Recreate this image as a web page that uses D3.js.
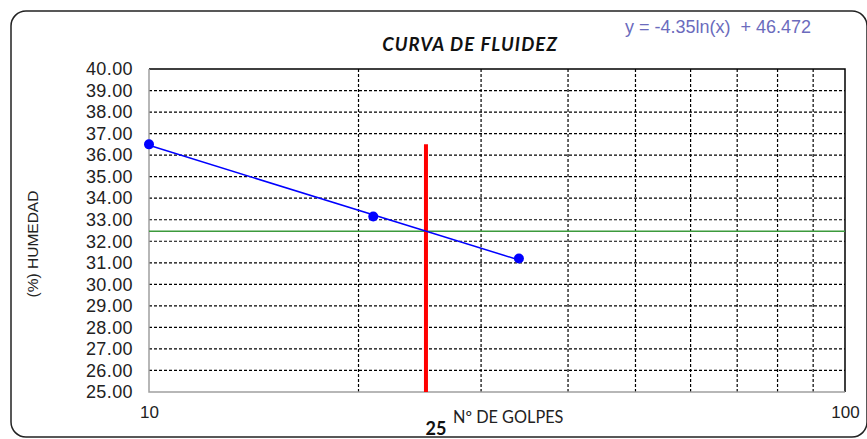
<!DOCTYPE html>
<html>
<head>
<meta charset="utf-8">
<script src="https://cdn.jsdelivr.net/npm/d3@7"></script>
<style>
  html, body { margin: 0; padding: 0; background: #fff; }
  svg { display: block; }
</style>
</head>
<body>
<div id="chart"></div>
<script>
// datos del ensayo (límite líquido)
const golpes = [10, 21, 34];
const humedad = [36.5, 33.15, 31.2];
const trendCoef = [-4.35, 46.472];      // y = a ln(x) + b
const golpesRef = 25;
const humedadRef = 32.47;
const yTicks = [25, 26, 27, 28, 29, 30, 31, 32, 33, 34, 35, 36, 37, 38, 39, 40];
const xTicks = [10, 100];
const xGrid = [20, 30, 40, 50, 60, 70, 80, 90];

const W = 867, H = 439;
const margin = { top: 69, right: 22, bottom: 47, left: 149 };
const width = W - margin.left - margin.right;
const height = H - margin.top - margin.bottom;

const root = d3.select('#chart').append('svg').attr('width', W).attr('height', H);

// marco exterior redondeado
root.append('rect')
  .attr('x', 11).attr('y', 11).attr('width', 856).attr('height', 426)
  .attr('rx', 15).attr('fill', 'none').attr('stroke', '#222').attr('stroke-width', 1.5);

const svg = root.append('g').attr('transform', `translate(${margin.left},${margin.top})`);

const x = d3.scaleLog().domain([10, 100]).range([0, width]);
const y = d3.scaleLinear().domain([25, 40]).range([height, 0]);

// rejilla
svg.append('g').selectAll('line').data(yTicks.filter(v => v > 25 && v < 40)).enter().append('line')
  .attr('x1', 0).attr('x2', width).attr('y1', d => y(d)).attr('y2', d => y(d))
  .attr('stroke', '#000').attr('stroke-dasharray', '3,2').attr('stroke-width', 1.2);
svg.append('g').selectAll('line').data(xGrid).enter().append('line')
  .attr('y1', 0).attr('y2', height).attr('x1', d => x(d)).attr('x2', d => x(d))
  .attr('stroke', '#000').attr('stroke-dasharray', '3,2').attr('stroke-width', 1.2);

// bordes del área
svg.append('path').attr('d', `M0,0H${width}V${height}`).attr('fill', 'none').attr('stroke', '#000').attr('stroke-width', 1.5);
svg.append('path').attr('d', `M0,0V${height}H${width}`).attr('fill', 'none').attr('stroke', '#a0a0a0').attr('stroke-width', 1.5);

// ejes
const yAxis = svg.append('g').call(d3.axisLeft(y).tickValues(yTicks).tickSize(0).tickPadding(16).tickFormat(d3.format('.2f')));
yAxis.select('.domain').remove();
yAxis.selectAll('text').attr('font-family', 'Liberation Sans, Arial, sans-serif').attr('font-size', 18).attr('fill', '#222').attr('letter-spacing', 0.4);

const xAxis = svg.append('g').attr('transform', `translate(0,${height})`)
  .call(d3.axisBottom(x).tickValues(xTicks).tickSize(0).tickPadding(14).tickFormat(d3.format('d')));
xAxis.select('.domain').remove();
xAxis.selectAll('text').attr('font-family', 'Liberation Sans, Arial, sans-serif').attr('font-size', 17).attr('fill', '#222');

// línea horizontal verde en la humedad de 25 golpes
svg.append('line')
  .attr('x1', 0).attr('x2', width).attr('y1', y(humedadRef)).attr('y2', y(humedadRef))
  .attr('stroke', '#3c9a3c').attr('stroke-width', 1.5);

// línea vertical roja en 25 golpes
svg.append('line')
  .attr('x1', x(golpesRef)).attr('x2', x(golpesRef)).attr('y1', y(25)).attr('y2', y(d3.max(humedad)))
  .attr('stroke', '#ff0000').attr('stroke-width', 4);

// tendencia logarítmica
const trendX = d3.extent(golpes);
svg.append('line')
  .attr('x1', x(trendX[0])).attr('y1', y(trendCoef[0] * Math.log(trendX[0]) + trendCoef[1]))
  .attr('x2', x(trendX[1])).attr('y2', y(trendCoef[0] * Math.log(trendX[1]) + trendCoef[1]))
  .attr('stroke', '#0000ff').attr('stroke-width', 1.5);

svg.selectAll('circle.pt').data(golpes).enter().append('circle')
  .attr('class', 'pt')
  .attr('cx', d => x(d)).attr('cy', (d, i) => y(humedad[i]))
  .attr('r', 5).attr('fill', '#0000ff');

// textos
root.append('text').attr('x', 470).attr('y', 51).attr('text-anchor', 'middle')
  .attr('font-family', 'Lato, sans-serif').attr('font-weight', 'bold').attr('font-style', 'italic')
  .attr('font-size', 18.5).attr('letter-spacing', 1.1).attr('fill', '#111').text('CURVA DE FLUIDEZ');

root.append('text').attr('x', 625).attr('y', 33)
  .attr('font-family', 'Liberation Sans, Arial, sans-serif').attr('font-size', 18)
  .attr('fill', '#6b6bbd').attr('xml:space', 'preserve')
  .text('y = -4.35ln(x)  + 46.472');

root.append('text').attr('x', 436).attr('y', 435).attr('text-anchor', 'middle')
  .attr('font-family', 'Lato, sans-serif').attr('font-weight', 'bold')
  .attr('font-size', 18).attr('fill', '#111').text(golpesRef);

root.append('text').attr('x', 453).attr('y', 423)
  .attr('font-family', 'Lato, sans-serif').attr('font-size', 16.3).attr('fill', '#222')
  .text('Nº DE GOLPES');

root.append('text').attr('transform', 'translate(38,244) rotate(-90)').attr('text-anchor', 'middle')
  .attr('font-family', 'Liberation Sans, Arial, sans-serif').attr('font-size', 15.5).attr('fill', '#222')
  .text('(%) HUMEDAD');
</script>
</body>
</html>
